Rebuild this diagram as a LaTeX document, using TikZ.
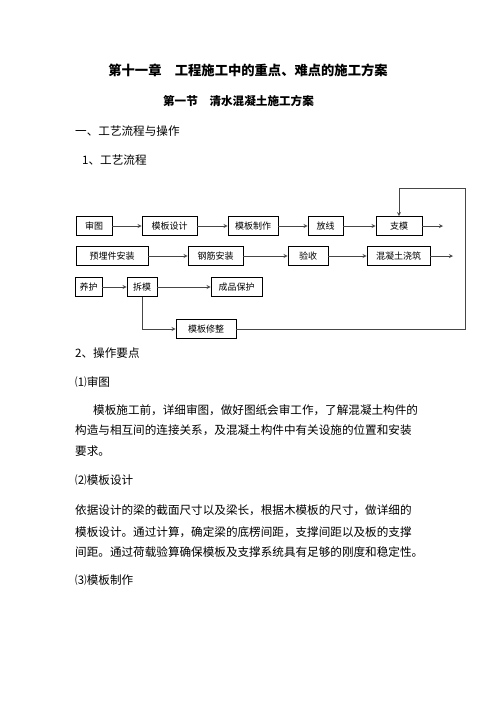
\documentclass[tikz,border=0pt]{standalone}
\usepackage{fontspec}
\setmainfont{Noto Sans CJK SC}
\usepackage{xcolor}
\definecolor{linegray}{RGB}{70,70,70}

\begin{document}
\begin{tikzpicture}[x=1pt, y=-1pt,
  box/.style={draw=black, line width=0.8pt, minimum height=19pt,
    inner sep=0pt, font=\fontsize{9}{9}\selectfont},
  arr/.style={->, >=stealth, line width=0.8pt, color=linegray},
  txt/.style={anchor=west, inner sep=0pt, font=\fontsize{11.6}{12}\selectfont},
  ttl/.style={inner sep=0pt, font=\fontsize{13.3}{14}\selectfont\bfseries},
  sub/.style={inner sep=0pt, font=\fontsize{11.6}{12}\selectfont\bfseries}
]
  \useasboundingbox (0,0) rectangle (496,702);

  % headings
  \node[ttl] (title) at (248,70)  {第十一章　工程施工中的重点、难点的施工方案};
  \node[sub] (sect)  at (238.5,101) {第一节　清水混凝土施工方案};
  \node[txt] (h1)    at (75,131)  {一、工艺流程与操作};
  \node[txt] (h11)   at (82,160)  {1、工艺流程};

  % flow boxes
  \node[box, minimum width=36pt] (st)  at (94,226)    {审图};
  \node[box, minimum width=55pt] (mbsj) at (169.5,226) {模板设计};
  \node[box, minimum width=50pt] (mbzz) at (253,226)   {模板制作};
  \node[box, minimum width=35pt] (fx)  at (325.5,226) {放线};
  \node[box, minimum width=46pt] (zm)  at (399,226)   {支模};
  \node[box, minimum width=72pt] (ymj) at (112,256)   {预埋件安装};
  \node[box, minimum width=55pt] (gj)  at (215.5,256) {钢筋安装};
  \node[box, minimum width=40pt] (ys)  at (308,256)   {验收};
  \node[box, minimum width=63pt] (hnt) at (398.5,256) {混凝土浇筑};
  \node[box, minimum width=27pt] (yh)  at (88.5,287)  {养护};
  \node[box, minimum width=30pt] (cm)  at (142,287)   {拆模};
  \node[box, minimum width=51pt] (cpbh) at (236.5,287) {成品保护};
  \node[box, minimum width=60pt] (xz)  at (206,329)   {模板修整};

  \coordinate (zmout)  at (443,226);
  \coordinate (hntout) at (453,256);
  \coordinate (loop)   at (465,188);

  \draw[arr] (st) -- (mbsj);
  \draw[arr] (mbsj) -- (mbzz);
  \draw[arr] (mbzz) -- (fx);
  \draw[arr] (fx) -- (zm);
  \draw[arr] (zm) -- (zmout);
  \draw[arr] (ymj) -- (gj);
  \draw[arr] (gj) -- (ys);
  \draw[arr] (ys) -- (hnt);
  \draw[arr] (hnt) -- (hntout);
  \draw[arr] (yh) -- (cm);
  \draw[arr] (cm) -- (cpbh);
  \draw[arr] (cm.south) |- (xz.west);
  \draw[arr] (xz.east) -- (xz -| loop) -- (loop) -| (zm.north);

  % operating points
  \node[txt] (h2)  at (75,353) {2、操作要点};
  \node[txt] (p1)  at (75,382) {⑴审图};
  \node[txt] (t1a) at (93,410) {模板施工前，详细审图，做好图纸会审工作，了解混凝土构件的};
  \node[txt] (t1b) at (75,430) {构造与相互间的连接关系，及混凝土构件中有关设施的位置和安装};
  \node[txt] (t1c) at (75,451) {要求。};
  \node[txt] (p2)  at (75,480) {⑵模板设计};
  \node[txt] (t2a) at (75,510) {依据设计的梁的截面尺寸以及梁长，根据木模板的尺寸，做详细的};
  \node[txt] (t2b) at (75,532) {模板设计。通过计算，确定梁的底楞间距，支撑间距以及板的支撑};
  \node[txt] (t2c) at (75,552) {间距。通过荷载验算确保模板及支撑系统具有足够的刚度和稳定性。};
  \node[txt] (p3)  at (75,580) {⑶模板制作};
\end{tikzpicture}
\end{document}
